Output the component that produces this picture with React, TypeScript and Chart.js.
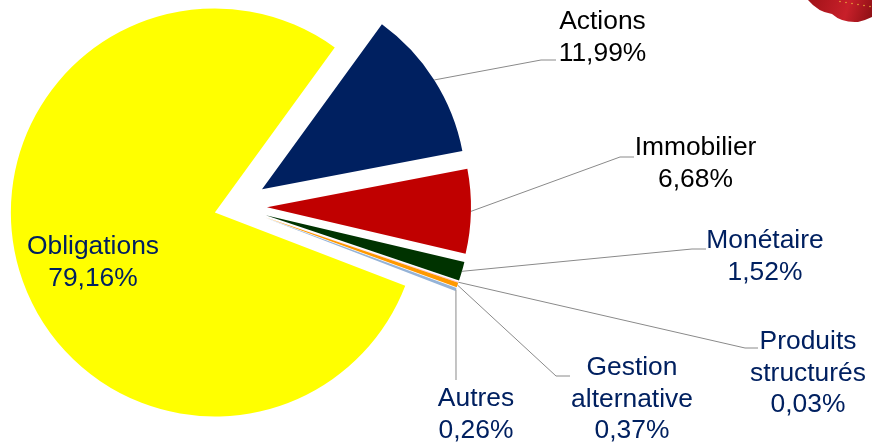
import React, { useEffect, useRef } from "react";
import { Chart, registerables } from "chart.js";

Chart.register(...registerables);

const categories = ["Actions", "Immobilier", "Monétaire", "Produits structurés", "Gestion alternative", "Autres", "Obligations"];
const values = [11.99, 6.68, 1.52, 0.03, 0.37, 0.26, 79.16];
const colors = ["#002060", "#C00000", "#003300", "#FF99CC", "#FF9900", "#95B3D7", "#FFFF00"];
const explode = [32, 32, 32, 32, 32, 32, 21];
const labelLines = [["Actions"], ["Immobilier"], ["Monétaire"], ["Produits", "structurés"], ["Gestion", "alternative"], ["Autres"], ["Obligations"]];
const labelColors = ["#000000", "#000000", "#002060", "#002060", "#002060", "#002060", "#002060"];
const labelCenters = [[602.5, 22], [695.5, 148], [765, 241], [808, 342], [632, 368], [476, 399], [93, 247]];
const elbows: (number[][] | null)[] = [
  [[541, 60], [556, 60]],
  [[620, 157], [634, 157]],
  [[692, 249], [706, 249]],
  [[745, 348], [758, 348]],
  [[556, 376], [570, 376]],
  [[456, 380]],
  null,
];

const fmt = (v: number) => v.toFixed(2).replace(".", ",") + "%";

const explodePlugin = {
  id: "explodeArcs",
  afterDatasetUpdate(chart: any) {
    chart.getDatasetMeta(0).data.forEach((arc: any, i: number) => {
      const mid = (arc.startAngle + arc.endAngle) / 2;
      arc.x += Math.cos(mid) * explode[i];
      arc.y += Math.sin(mid) * explode[i];
    });
  },
};

const labelsPlugin = {
  id: "pieLabels",
  afterDatasetsDraw(chart: any) {
    const ctx = chart.ctx as CanvasRenderingContext2D;
    const arcs = chart.getDatasetMeta(0).data;
    ctx.save();
    // wax seal fragment, top right
    const g = ctx.createLinearGradient(808, 0, 872, 20);
    g.addColorStop(0, "#a01218");
    g.addColorStop(0.6, "#c8202a");
    g.addColorStop(1, "#8c0f14");
    ctx.fillStyle = g;
    ctx.beginPath();
    ctx.moveTo(808, 0);
    ctx.quadraticCurveTo(818, 12, 832, 14);
    ctx.quadraticCurveTo(842, 23, 858, 22);
    ctx.quadraticCurveTo(866, 20, 872, 17);
    ctx.lineTo(872, 0);
    ctx.closePath();
    ctx.fill();
    ctx.fillStyle = "#e8a83c";
    for (let i = 0; i < 6; i++) {
      ctx.beginPath();
      ctx.arc(840 + i * 6, 1.5 + i * 1, 0.8, 0, Math.PI * 2);
      ctx.fill();
    }

    ctx.strokeStyle = "#8a8a8a";
    ctx.lineWidth = 1;
    arcs.forEach((arc: any, i: number) => {
      const e = elbows[i];
      if (!e) return;
      const mid = (arc.startAngle + arc.endAngle) / 2;
      ctx.beginPath();
      ctx.moveTo(arc.x + Math.cos(mid) * arc.outerRadius, arc.y + Math.sin(mid) * arc.outerRadius);
      e.forEach(([x, y]) => ctx.lineTo(x, y));
      ctx.stroke();
    });

    ctx.font = '26.4px "Liberation Sans"';
    ctx.textAlign = "center";
    ctx.textBaseline = "middle";
    categories.forEach((_, i) => {
      const lines = [...labelLines[i], fmt(values[i])];
      const [x, y] = labelCenters[i];
      ctx.fillStyle = labelColors[i];
      lines.forEach((t, k) => ctx.fillText(t, x, y + k * 31.5));
    });
    ctx.restore();
  },
};

export default function App() {
  const ref = useRef<HTMLCanvasElement>(null);
  useEffect(() => {
    const chart = new Chart(ref.current!, {
      type: "pie",
      data: {
        labels: categories,
        datasets: [{ data: values, backgroundColor: colors, borderWidth: 0, clip: false } as any],
      },
      options: {
        responsive: false,
        animation: false,
        rotation: 36,
        radius: 204,
        layout: { padding: { left: 0, right: 402, top: 0, bottom: 29 } },
        plugins: { legend: { display: false }, tooltip: { enabled: false } },
      } as any,
      plugins: [explodePlugin, labelsPlugin],
    });
    return () => chart.destroy();
  }, []);
  return (
    <div style={{ position: "absolute", left: 0, top: 0, width: 872, height: 442, background: "#fff" }}>
      <canvas ref={ref} width={872} height={442} style={{ display: "block" }} />
    </div>
  );
}
